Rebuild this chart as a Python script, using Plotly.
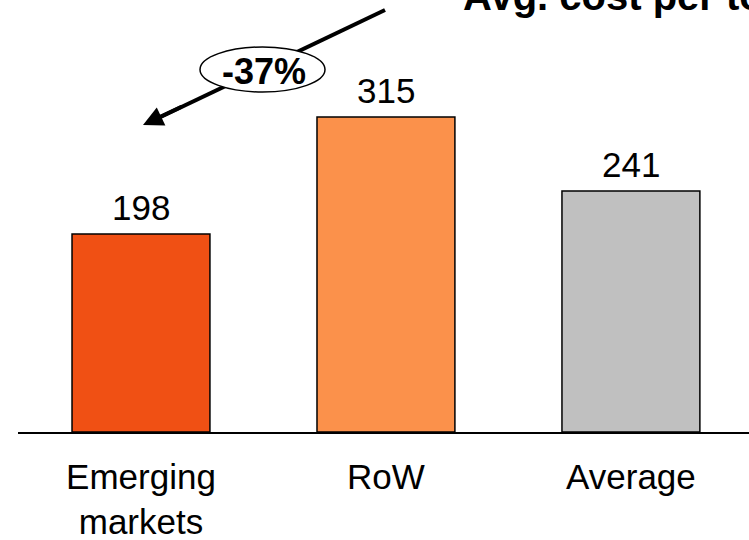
import plotly.graph_objects as go

categories = ["Emerging<br>markets", "RoW", "Average"]
values = [198, 315, 241]
colors = ["#F05014", "#FB914B", "#C0C0C0"]
title_text = "Avg. cost per ton"
change_label = "-37%"

W, H = 749, 540
L, R, T, B = 18, 0, 0, 108
pw, ph = W - L - R, H - T - B

def px(x):
    return (x - L) / pw

def py(y):
    return (H - B - y) / ph

FONT = "Liberation Sans, Arial, sans-serif"

fig = go.Figure(go.Bar(
    x=categories, y=values,
    marker=dict(color=colors, line=dict(color="black", width=1.5)),
    width=0.563,
    cliponaxis=False,
))

value_labels = [
    dict(x=c, y=v, xref="x", yref="y", text=str(v), showarrow=False,
         yanchor="bottom", yshift=5, font=dict(size=35, color="black"))
    for c, v in zip(categories, values)
]

fig.update_layout(
    width=W, height=H,
    margin=dict(l=L, r=R, t=T, b=B, autoexpand=False),
    paper_bgcolor="white", plot_bgcolor="white",
    showlegend=False,
    font=dict(family=FONT, color="black"),
    xaxis=dict(range=[-0.502, 2.482], showline=True, linecolor="black", linewidth=1.5,
               showgrid=False, zeroline=False, ticks="", tickfont=dict(size=35),
               ticklabelstandoff=13, automargin=False),
    yaxis=dict(range=[0, 432], visible=False, automargin=False),
    shapes=[
        dict(type="line", xref="paper", yref="paper",
             x0=px(385), y0=py(10), x1=px(150), y1=py(122),
             line=dict(color="black", width=4)),
        dict(type="circle", xref="paper", yref="paper",
             x0=px(200), x1=px(325), y0=py(92), y1=py(47),
             fillcolor="white", line=dict(color="black", width=1.5)),
    ],
    annotations=value_labels + [
        dict(xref="paper", yref="paper", x=px(143), y=py(125), text="",
             showarrow=True, ax=40, ay=-19, arrowhead=2, arrowsize=1,
             arrowwidth=4, arrowcolor="black"),
        dict(xref="paper", yref="paper", x=px(264), y=py(71), text="<b>" + change_label + "</b>",
             showarrow=False, font=dict(size=36, color="black"),
             xanchor="center", yanchor="middle"),
        dict(xref="paper", yref="paper", x=px(461), y=py(20), text="<b>" + title_text + "</b>",
             showarrow=False, font=dict(size=40, color="black"),
             xanchor="left", yanchor="bottom"),
    ],
)

fig.write_html("out.html")
